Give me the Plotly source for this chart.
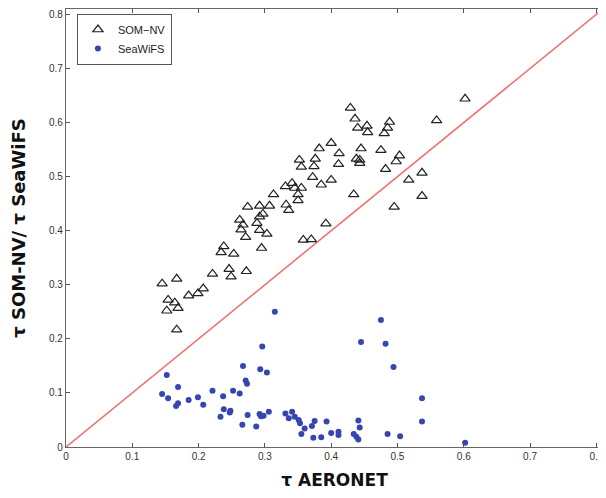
import plotly.graph_objects as go

som_x = [0.382, 0.352, 0.355, 0.376, 0.374, 0.372, 0.385, 0.331, 0.341, 0.345, 0.355, 0.350, 0.350,
         0.313, 0.274, 0.292, 0.307, 0.332, 0.336, 0.297, 0.262, 0.267, 0.288, 0.292, 0.264, 0.292,
         0.303, 0.271, 0.392, 0.295, 0.358, 0.370, 0.238, 0.234, 0.253, 0.246, 0.249, 0.272, 0.221,
         0.167, 0.145, 0.207, 0.199, 0.185, 0.154, 0.164, 0.169, 0.152, 0.167,
         0.602, 0.429, 0.436, 0.440, 0.454, 0.455, 0.488, 0.485, 0.480, 0.559, 0.400, 0.412, 0.411,
         0.445, 0.438, 0.443, 0.443, 0.475, 0.503, 0.498, 0.482, 0.537, 0.517, 0.400, 0.434, 0.537,
         0.495]
som_y = [0.552, 0.531, 0.518, 0.533, 0.519, 0.499, 0.485, 0.482, 0.488, 0.479, 0.479, 0.467, 0.456,
         0.467, 0.444, 0.446, 0.446, 0.448, 0.438, 0.431, 0.420, 0.411, 0.414, 0.426, 0.402, 0.401,
         0.394, 0.388, 0.413, 0.368, 0.383, 0.384, 0.371, 0.360, 0.357, 0.329, 0.315, 0.325, 0.320,
         0.311, 0.302, 0.293, 0.284, 0.280, 0.272, 0.267, 0.257, 0.252, 0.217,
         0.644, 0.627, 0.607, 0.590, 0.594, 0.582, 0.601, 0.590, 0.580, 0.604, 0.562, 0.543, 0.523,
         0.552, 0.533, 0.531, 0.525, 0.549, 0.539, 0.528, 0.514, 0.507, 0.494, 0.494, 0.467, 0.464,
         0.444]

sea_x = [0.315, 0.296, 0.267, 0.293, 0.303, 0.152, 0.271, 0.273, 0.169, 0.221, 0.252, 0.262, 0.145,
         0.237, 0.199, 0.154, 0.185, 0.169, 0.166, 0.207, 0.238, 0.248, 0.247, 0.233, 0.274, 0.292,
         0.294, 0.298, 0.306, 0.266, 0.287, 0.331, 0.341, 0.336, 0.345, 0.351, 0.353, 0.360, 0.355,
         0.371, 0.375, 0.373, 0.385, 0.393,
         0.475, 0.445, 0.482, 0.494, 0.537, 0.537, 0.400, 0.411, 0.411, 0.441, 0.443, 0.434, 0.438,
         0.441, 0.485, 0.504, 0.602]
sea_y = [0.250, 0.186, 0.150, 0.144, 0.138, 0.133, 0.123, 0.117, 0.111, 0.104, 0.104, 0.099, 0.098,
         0.094, 0.092, 0.090, 0.087, 0.081, 0.076, 0.078, 0.070, 0.067, 0.064, 0.056, 0.059, 0.061,
         0.057, 0.058, 0.065, 0.041, 0.038, 0.062, 0.065, 0.053, 0.056, 0.050, 0.044, 0.034, 0.024,
         0.039, 0.048, 0.017, 0.018, 0.047,
         0.235, 0.194, 0.191, 0.148, 0.090, 0.047, 0.026, 0.028, 0.022, 0.049, 0.036, 0.024, 0.019,
         0.014, 0.024, 0.020, 0.008]

line_xy = [0, 0.81]
ticks = [0, 0.1, 0.2, 0.3, 0.4, 0.5, 0.6, 0.7, 0.8]
tick_text = ["0", "0.1", "0.2", "0.3", "0.4", "0.5", "0.6", "0.7", "0.8"]

fig = go.Figure()
fig.add_trace(go.Scatter(x=line_xy, y=line_xy, mode="lines",
                         line=dict(color="#f07373", width=1.6), showlegend=False, hoverinfo="skip"))
fig.add_trace(go.Scatter(x=som_x, y=som_y, mode="markers", name="SOM\u2212NV",
                         marker=dict(symbol="triangle-up-open", size=9, color="#222222",
                                     line=dict(width=1.2, color="#222222"))))
fig.add_trace(go.Scatter(x=sea_x, y=sea_y, mode="markers", name="SeaWiFS",
                         marker=dict(symbol="circle", size=6, color="#3546b0")))

axis_common = dict(range=[0, 0.81], tickvals=ticks, ticktext=tick_text, ticks="inside", ticklen=4,
                   tickcolor="#555555", showline=True, linecolor="#666666", linewidth=1.2,
                   mirror="ticks", showgrid=False, zeroline=False, automargin=False,
                   tickfont=dict(family="Liberation Sans", size=10, color="#333333"))

fig.update_layout(
    width=598, height=490,
    margin=dict(l=58, r=3, t=1, b=51),
    paper_bgcolor="white", plot_bgcolor="white",
    xaxis=dict(**axis_common,
               title=dict(text="<b>\u03c4 AERONET</b>", standoff=13,
                          font=dict(family="DejaVu Sans", size=17, color="#111111"))),
    yaxis=dict(**axis_common,
               title=dict(text="<b>\u03c4 SOM-NV/ \u03c4 SeaWiFS</b>", standoff=24,
                          font=dict(family="DejaVu Sans", size=18, color="#111111"))),
    legend=dict(x=0.02, y=0.989, xanchor="left", yanchor="top", bgcolor="white",
                bordercolor="#555555", borderwidth=1.2,
                font=dict(family="Liberation Sans", size=11, color="#222222"),
                tracegroupgap=0, itemwidth=30),
    showlegend=True,
)

fig.write_html("out.html")
